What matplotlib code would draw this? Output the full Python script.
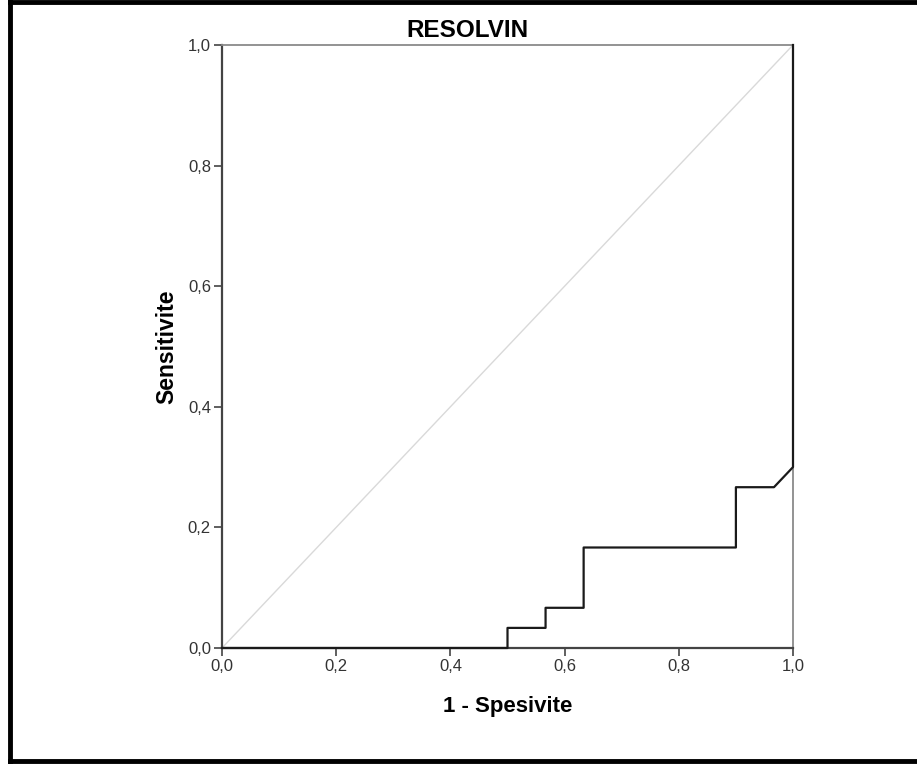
import matplotlib
matplotlib.use("Agg")
import matplotlib.pyplot as plt
from matplotlib.lines import Line2D

plt.rcParams["font.family"] = ["Liberation Sans", "DejaVu Sans"]

# ROC curve points (1 - specificity, sensitivity)
fpr = [0.0, 0.5, 0.5, 17 / 30, 17 / 30, 19 / 30, 19 / 30, 0.9, 0.9, 29 / 30, 1.0, 1.0]
tpr = [0.0, 0.0, 1 / 30, 1 / 30, 2 / 30, 2 / 30, 5 / 30, 5 / 30, 8 / 30, 8 / 30, 9 / 30, 1.0]
ref_line = [0.0, 1.0]

ticks = [0.0, 0.2, 0.4, 0.6, 0.8, 1.0]
tick_labels = ["0,0", "0,2", "0,4", "0,6", "0,8", "1,0"]

fig = plt.figure(figsize=(9.17, 7.65), dpi=100)
ax = fig.add_axes([222 / 917, 1 - 648 / 765, 571 / 917, 603 / 765])

ax.plot(ref_line, ref_line, color="#d9d9d9", lw=1.0, zorder=1)
ax.plot(fpr, tpr, color="#1a1a1a", lw=1.6, zorder=3, clip_on=False)

ax.set_xlim(0, 1)
ax.set_ylim(0, 1)
ax.set_xticks(ticks)
ax.set_xticklabels(tick_labels)
ax.set_yticks(ticks)
ax.set_yticklabels(tick_labels)
ax.tick_params(direction="out", length=6, width=1.2, color="#444444",
               labelsize=12, labelcolor="#333333", pad=2)

for side in ["bottom", "left"]:
    ax.spines[side].set_color("#444444")
    ax.spines[side].set_linewidth(1.6)
for side in ["top", "right"]:
    ax.spines[side].set_color("#8a8a8a")
    ax.spines[side].set_linewidth(1.3)

# SPSS puts the title a bit left of the axes centre
ax.set_title("RESOLVIN", fontsize=17.5, fontweight="bold", pad=6,
             x=(467 - 222) / 571)
ax.set_xlabel("1 - Spesivite", fontsize=16, fontweight="bold", labelpad=16)
ax.set_ylabel("Sensitivite", fontsize=16.5, fontweight="bold", labelpad=7)

# black frame around the picture (left, top, bottom)
fig.add_artist(Line2D([10 / 917, 10 / 917], [1 - 761 / 765, 1.0],
                      transform=fig.transFigure, color="black", lw=3.5))
fig.add_artist(Line2D([10 / 917, 1.0], [1 - 1.5 / 765, 1 - 1.5 / 765],
                      transform=fig.transFigure, color="black", lw=3.5))
fig.add_artist(Line2D([10 / 917, 1.0], [1 - 761 / 765, 1 - 761 / 765],
                      transform=fig.transFigure, color="black", lw=3.5))

fig.savefig("out.png", dpi=100)
